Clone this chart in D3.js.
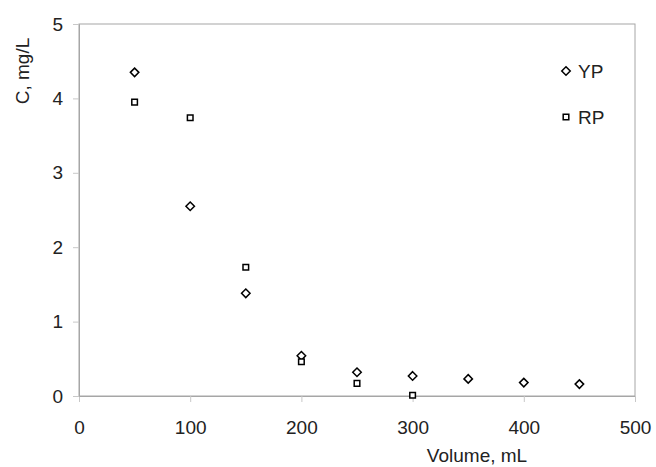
<!DOCTYPE html>
<html>
<head>
<meta charset="utf-8">
<script src="https://cdn.jsdelivr.net/npm/d3@7"></script>
<style>
  body { margin: 0; background: #fff; }
  text { font-family: "Liberation Sans", Arial, sans-serif; fill: #222; }
</style>
</head>
<body>
<div id="chart"></div>
<script>
const volumes = [50, 100, 150, 200, 250, 300, 350, 400, 450];
const ypValues = [4.35, 2.55, 1.38, 0.54, 0.32, 0.27, 0.23, 0.18, 0.16];
const rpVolumes = [50, 100, 150, 200, 250, 300];
const rpValues = [3.95, 3.74, 1.73, 0.46, 0.17, 0.01];
const xTicks = [0, 100, 200, 300, 400, 500];
const yTicks = [0, 1, 2, 3, 4, 5];

const W = 656, H = 467;
const margin = { top: 24, right: 21, bottom: 71, left: 79 };
const width = W - margin.left - margin.right;
const height = H - margin.top - margin.bottom;

const svg = d3.select("#chart").append("svg")
  .attr("width", W).attr("height", H);
const g = svg.append("g")
  .attr("transform", `translate(${margin.left},${margin.top})`);

const x = d3.scaleLinear().domain([0, 500]).range([0, width]);
const y = d3.scaleLinear().domain([0, 5]).range([height, 0]);

// plot frame
g.append("rect")
  .attr("width", width).attr("height", height)
  .attr("fill", "none").attr("stroke", "#a6a6a6").attr("stroke-width", 1);

// axes
const xAxis = g.append("g")
  .attr("transform", `translate(0,${height})`)
  .call(d3.axisBottom(x).tickValues(xTicks).tickFormat(d3.format("d")).tickSize(6).tickPadding(19));
const yAxis = g.append("g")
  .call(d3.axisLeft(y).tickValues(yTicks).tickFormat(d3.format("d")).tickSize(6).tickPadding(10));
[xAxis, yAxis].forEach(a => {
  a.select(".domain").attr("stroke", "#a6a6a6");
  a.selectAll(".tick line").attr("stroke", "#c8c8c8");
  a.selectAll(".tick text")
    .style("font-family", "Liberation Sans, Arial, sans-serif")
    .style("font-size", "19px").attr("fill", "#222");
});

// markers
const diamond = d3.symbol().type(d3.symbolDiamond2).size(46);
const square = d3.symbol().type(d3.symbolSquare2).size(40);

g.selectAll(".yp").data(volumes).join("path")
  .attr("class", "yp")
  .attr("d", diamond)
  .attr("transform", (d, i) => `translate(${x(d)},${y(ypValues[i])})`)
  .attr("fill", "#fff").attr("stroke", "#000").attr("stroke-width", 1.5);

g.selectAll(".rp").data(rpVolumes).join("path")
  .attr("class", "rp")
  .attr("d", square)
  .attr("transform", (d, i) => `translate(${x(d)},${y(rpValues[i])})`)
  .attr("fill", "#fff").attr("stroke", "#000").attr("stroke-width", 1.5);

// axis titles
svg.append("text")
  .attr("x", 477).attr("y", 462)
  .attr("text-anchor", "middle")
  .style("font-size", "19px")
  .text("Volume, mL");

svg.append("text")
  .attr("transform", "translate(29,71) rotate(-90)")
  .attr("text-anchor", "middle")
  .style("font-size", "19px")
  .text("C, mg/L");

// legend
const legend = svg.append("g").attr("transform", "translate(566,71)");
const items = [{ name: "YP", sym: diamond }, { name: "RP", sym: square }];
items.forEach((it, i) => {
  const row = legend.append("g").attr("transform", `translate(0,${i * 46})`);
  row.append("path").attr("d", it.sym)
    .attr("fill", "#fff").attr("stroke", "#000").attr("stroke-width", 1.5);
  row.append("text").attr("x", 12).attr("y", 7)
    .style("font-size", "19px").text(it.name);
});
</script>
</body>
</html>
